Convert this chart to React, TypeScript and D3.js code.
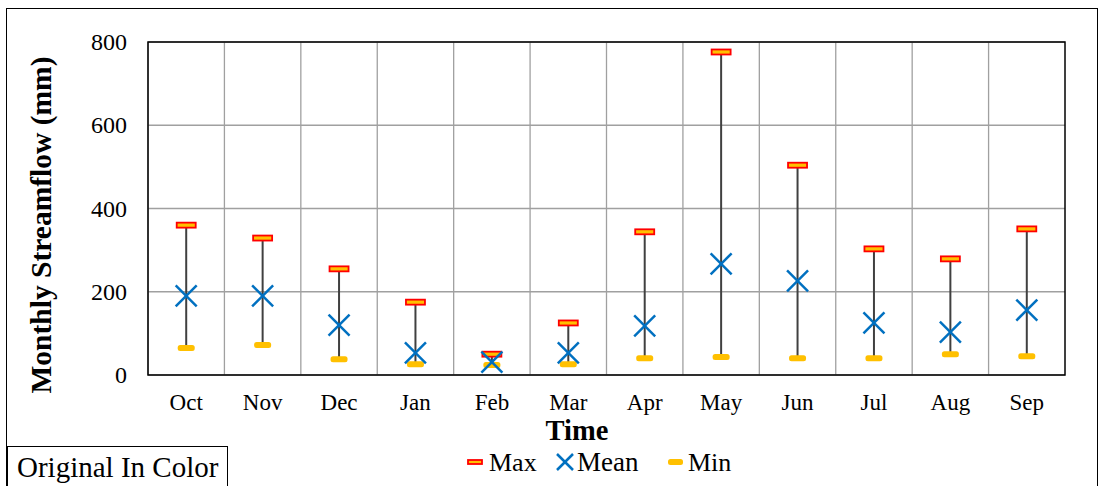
import React from "react";
import * as d3 from "d3";

const months = ["Oct", "Nov", "Dec", "Jan", "Feb", "Mar", "Apr", "May", "Jun", "Jul", "Aug", "Sep"];
const maxVals = [360, 329, 255, 175, 50, 125, 344, 776, 504, 303, 279, 351];
const meanVals = [190, 190, 120, 53, 31, 53, 118, 267, 226, 125, 103, 156];
const minVals = [65, 72, 38, 26, 24, 26, 40, 43, 40, 40, 50, 45];
const yTicks = [0, 200, 400, 600, 800];

const W = 1101;
const H = 486;
const m = { left: 148, top: 42, right: 1065, bottom: 375 };
const font = "'Liberation Serif', 'Times New Roman', serif";

export default function App() {
  const x = d3.scaleBand().domain(months).range([m.left, m.right]);
  const y = d3.scaleLinear().domain([0, 800]).range([m.bottom, m.top]);
  const bw = x.bandwidth();

  const cross = (cx: number, cy: number, s: number, key?: string) => (
    <g key={key} stroke="#0070C0" strokeWidth={2.5}>
      <line x1={cx - s} y1={cy - s} x2={cx + s} y2={cy + s} />
      <line x1={cx - s} y1={cy + s} x2={cx + s} y2={cy - s} />
    </g>
  );

  return (
    <svg width={W} height={H} style={{ position: "absolute", left: 0, top: 0 }} fontFamily={font}>
      <rect x={0} y={0} width={W} height={H} fill="#fff" />
      <rect x={6.5} y={8.5} width={1091} height={490} fill="none" stroke="#000" strokeWidth={1} />

      {/* grid */}
      {yTicks.map((t) => (
        <line key={"h" + t} x1={m.left} x2={m.right} y1={y(t)} y2={y(t)} stroke="#A0A0A0" strokeWidth={1.3} />
      ))}
      {months.map((mo) => (
        <line key={"v" + mo} x1={x(mo)!} x2={x(mo)!} y1={m.top} y2={m.bottom} stroke="#A0A0A0" strokeWidth={1.3} />
      ))}
      <rect x={m.left} y={m.top} width={m.right - m.left} height={m.bottom - m.top} fill="none" stroke="#000" strokeWidth={1.5} />

      {/* ticks */}
      {yTicks.map((t) => (
        <text key={"yt" + t} x={127} y={y(t) + 8} fontSize={24} textAnchor="end">
          {t}
        </text>
      ))}
      {months.map((mo) => (
        <text key={"xt" + mo} x={x(mo)! + bw / 2} y={410} fontSize={23} textAnchor="middle">
          {mo}
        </text>
      ))}

      <text x={577} y={440} fontSize={28.5} fontWeight="bold" textAnchor="middle">
        Time
      </text>
      <text
        transform={`translate(51,225) rotate(-90)`}
        fontSize={29.5}
        fontWeight="bold"
        textAnchor="middle"
      >
        Monthly Streamflow (mm)
      </text>

      {/* marks */}
      {months.map((mo, i) => {
        const cx = x(mo)! + bw / 2;
        return (
          <g key={"mk" + mo}>
            <line x1={cx} x2={cx} y1={y(minVals[i])} y2={y(maxVals[i])} stroke="#404040" strokeWidth={2} />
            <rect x={cx - 9.5} y={y(maxVals[i]) - 2.5} width={19} height={5} fill="#FFC000" stroke="#FF0000" strokeWidth={1.8} />
            <rect x={cx - 8.5} y={y(minVals[i]) - 3} width={17} height={6} rx={2.5} fill="#FFC000" />
            {cross(cx, y(meanVals[i]), 10.5)}
          </g>
        );
      })}

      {/* legend */}
      <rect x={468} y={460} width={14} height={4} fill="#FFC000" stroke="#FF0000" strokeWidth={1.8} />
      <text x={489} y={471} fontSize={26}>Max</text>
      {cross(565, 462, 8)}
      <text x={577} y={471} fontSize={27}>Mean</text>
      <rect x={668} y={459} width={15} height={6} rx={2.5} fill="#FFC000" />
      <text x={688} y={471} fontSize={26}>Min</text>

      <rect x={7.5} y={446.5} width={220} height={45} fill="#fff" stroke="#000" strokeWidth={1} />
      <text x={17} y={477} fontSize={29}>Original In Color</text>
    </svg>
  );
}
